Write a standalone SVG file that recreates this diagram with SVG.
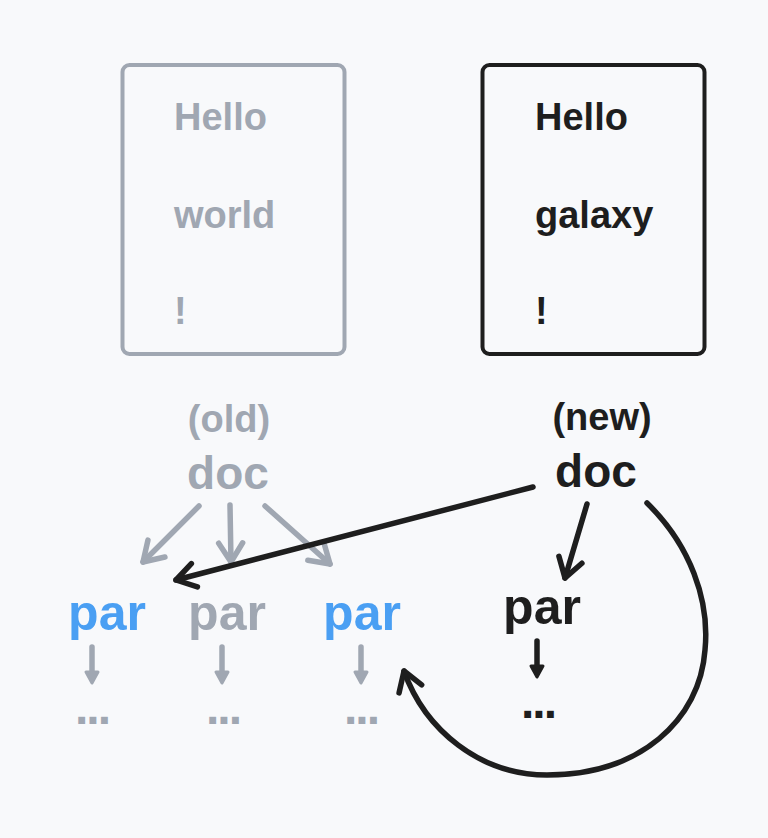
<svg xmlns="http://www.w3.org/2000/svg" width="768" height="838" viewBox="0 0 768 838">
  <style>
    .t { font-family: "Liberation Sans", Arial, sans-serif; font-weight: bold; }
    .gray { fill: #a0a7b2; }
    .black { fill: #1e1e1e; }
    .blue { fill: #4a9ff3; }
    .box { fill: none; stroke-width: 4; }
    .c { fill: none; stroke-width: 5.5; stroke-linecap: round; stroke-linejoin: round; }
    .cg { stroke: #a0a7b2; }
    .cb { stroke: #1e1e1e; }
    .dots { font-size: 48px; letter-spacing: -2px; }
  </style>
  <defs>
    <marker id="vGray" markerUnits="userSpaceOnUse" markerWidth="32" markerHeight="32" viewBox="0 0 32 32" refX="26" refY="16" orient="auto" overflow="visible">
      <path d="M7,4 L26,16 L7,28" fill="none" stroke="#a0a7b2" stroke-width="5.5" stroke-linecap="round" stroke-linejoin="round"/>
    </marker>
    <marker id="vBlack" markerUnits="userSpaceOnUse" markerWidth="32" markerHeight="32" viewBox="0 0 32 32" refX="26" refY="16" orient="auto" overflow="visible">
      <path d="M7,4 L26,16 L7,28" fill="none" stroke="#1e1e1e" stroke-width="5.5" stroke-linecap="round" stroke-linejoin="round"/>
    </marker>
    <marker id="tGray" markerUnits="userSpaceOnUse" markerWidth="20" markerHeight="20" viewBox="-3 -10 20 20" refX="7" refY="0" orient="auto" overflow="visible">
      <path d="M0,-6 L11,0 L0,6 Z" fill="#a0a7b2" stroke="#a0a7b2" stroke-width="3" stroke-linejoin="round"/>
    </marker>
    <marker id="tBlack" markerUnits="userSpaceOnUse" markerWidth="20" markerHeight="20" viewBox="-3 -10 20 20" refX="7" refY="0" orient="auto" overflow="visible">
      <path d="M0,-6 L11,0 L0,6 Z" fill="#1e1e1e" stroke="#1e1e1e" stroke-width="3" stroke-linejoin="round"/>
    </marker>
  </defs>

  <rect x="0" y="0" width="768" height="838" fill="#f8f9fb"/>

  <g id="box-old">
    <rect class="box" x="122.5" y="65" width="222" height="289" rx="7" stroke="#a0a7b2"/>
    <text class="t gray" x="174" y="130" font-size="38">Hello</text>
    <text class="t gray" x="174" y="228" font-size="38">world</text>
    <text class="t gray" x="174" y="324" font-size="38">!</text>
  </g>

  <g id="box-new">
    <rect class="box" x="482.5" y="65" width="222" height="289" rx="7" stroke="#1e1e1e"/>
    <text class="t black" x="535" y="130" font-size="38">Hello</text>
    <text class="t black" x="535" y="228" font-size="38">galaxy</text>
    <text class="t black" x="535" y="324" font-size="38">!</text>
  </g>

  <g id="label-old"><text class="t gray" x="229" y="432" font-size="38" text-anchor="middle">(old)</text></g>
  <g id="doc-old"><text class="t gray" x="228" y="489" font-size="46" text-anchor="middle">doc</text></g>
  <g id="label-new"><text class="t black" x="602" y="430" font-size="38" text-anchor="middle">(new)</text></g>
  <g id="doc-new"><text class="t black" x="596" y="487" font-size="46" text-anchor="middle">doc</text></g>

  <g id="par-old-1"><text class="t blue" x="107" y="630" font-size="50" text-anchor="middle">par</text></g>
  <g id="par-old-2"><text class="t gray" x="227" y="630" font-size="50" text-anchor="middle">par</text></g>
  <g id="par-old-3"><text class="t blue" x="362" y="630" font-size="50" text-anchor="middle">par</text></g>
  <g id="par-new"><text class="t black" x="542" y="624" font-size="50" text-anchor="middle">par</text></g>

  <g id="more-old-1"><text class="t gray dots" x="92" y="724" text-anchor="middle">...</text></g>
  <g id="more-old-2"><text class="t gray dots" x="223" y="724" text-anchor="middle">...</text></g>
  <g id="more-old-3"><text class="t gray dots" x="361" y="724" text-anchor="middle">...</text></g>
  <g id="more-new"><text class="t black dots" x="538" y="718" text-anchor="middle">...</text></g>

  <g id="connectors">
    <path class="c cg" d="M199,506 L143,562" marker-end="url(#vGray)"/>
    <path class="c cg" d="M230,505 L231,562" marker-end="url(#vGray)"/>
    <path class="c cg" d="M265,506 L330,564" marker-end="url(#vGray)"/>
    <path class="c cg" d="M92,647 L92,679" marker-end="url(#tGray)"/>
    <path class="c cg" d="M222,647 L222,679" marker-end="url(#tGray)"/>
    <path class="c cg" d="M361,647 L361,679" marker-end="url(#tGray)"/>
    <path class="c cb" d="M533,487 L176,580" marker-end="url(#vBlack)"/>
    <path class="c cb" d="M587,504 L565,578" marker-end="url(#vBlack)"/>
    <path class="c cb" d="M537,641 L537,673" marker-end="url(#tBlack)"/>
    <path class="c cb" d="M647,503 C690,545 710,600 705,650 C700,720 640,775 547,775 C480,775 425,730 404,671" marker-end="url(#vBlack)"/>
  </g>
</svg>
